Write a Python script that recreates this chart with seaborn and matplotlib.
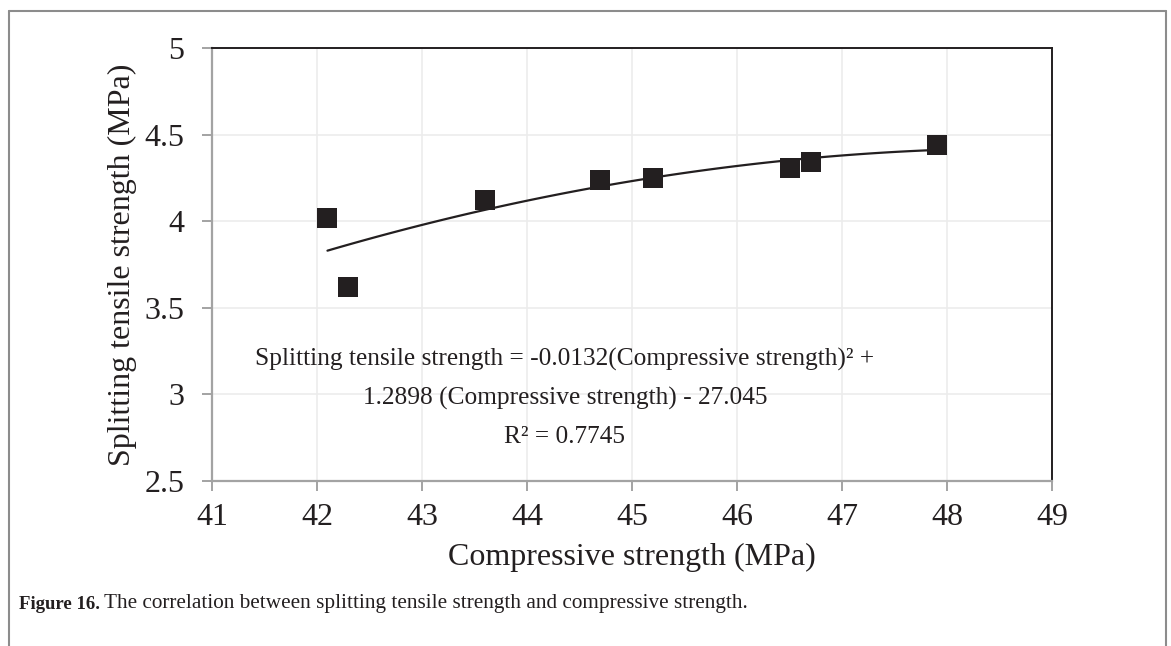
import numpy as np
import pandas as pd
import seaborn as sns
import matplotlib.pyplot as plt
from matplotlib.lines import Line2D

# Measured strengths (MPa)
compressive = [42.1, 42.3, 43.6, 44.7, 45.2, 46.5, 46.7, 47.9]
splitting = [4.02, 3.62, 4.12, 4.24, 4.25, 4.31, 4.34, 4.44]

x_ticks = [41, 42, 43, 44, 45, 46, 47, 48, 49]
y_ticks = [2.5, 3, 3.5, 4, 4.5, 5]
y_tick_labels = ["2.5", "3", "3.5", "4", "4.5", "5"]

equation_lines = [
    "Splitting tensile strength = -0.0132(Compressive strength)\u00b2 +",
    "1.2898 (Compressive strength) - 27.045",
    "R\u00b2 = 0.7745",
]

df = pd.DataFrame({"Compressive strength (MPa)": compressive,
                   "Splitting tensile strength (MPa)": splitting})

sns.set_theme(style="white")
plt.rcParams["font.family"] = ["Liberation Serif", "DejaVu Serif"]

ink = "#231f20"
axis_grey = "#a3a3a3"

fig = plt.figure(figsize=(11.71, 6.46), dpi=100)
ax = fig.add_axes([0.181, 0.2554, 0.8984 - 0.181, 0.9257 - 0.2554])

# second-order trendline over the data range
sns.regplot(data=df, x="Compressive strength (MPa)", y="Splitting tensile strength (MPa)",
            order=2, ci=None, scatter=False, ax=ax,
            line_kws={"color": ink, "linewidth": 1.6})
sns.scatterplot(data=df, x="Compressive strength (MPa)", y="Splitting tensile strength (MPa)",
                marker="s", s=210, color=ink, linewidth=0, ax=ax, zorder=3)

ax.set_xlim(41, 49)
ax.set_ylim(2.5, 5)
ax.set_xticks(x_ticks)
ax.set_xticklabels([str(v) for v in x_ticks])
ax.set_yticks(y_ticks)
ax.set_yticklabels(y_tick_labels)
ax.grid(True, color="#ececec", linewidth=1.2)
ax.set_axisbelow(True)

for side in ("top", "right"):
    ax.spines[side].set_color(ink)
    ax.spines[side].set_linewidth(1.4)
for side in ("left", "bottom"):
    ax.spines[side].set_color(axis_grey)
    ax.spines[side].set_linewidth(1.6)

ax.tick_params(axis="both", which="major", direction="out", length=7, width=1.4,
               color=axis_grey, labelsize=23, labelcolor=ink)
ax.tick_params(axis="x", bottom=True, pad=9)
ax.tick_params(axis="y", left=True, pad=13)

ax.set_xlabel("Compressive strength (MPa)", fontsize=23, color=ink, labelpad=8)
ax.set_ylabel("Splitting tensile strength (MPa)", fontsize=23, color=ink, labelpad=5)

ax.text(44.36, 2.982, "\n".join(equation_lines), ha="center", va="center",
        multialignment="center", fontsize=18.3, color=ink, linespacing=1.92)

# outer frame around figure and caption
frame_kw = dict(color="#8c8c8c", linewidth=1.5, transform=fig.transFigure)
fig.add_artist(Line2D([9 / 1171, 1166 / 1171], [1 - 11 / 646, 1 - 11 / 646], **frame_kw))
fig.add_artist(Line2D([9 / 1171, 9 / 1171], [1 - 11 / 646, -0.01], **frame_kw))
fig.add_artist(Line2D([1166 / 1171, 1166 / 1171], [1 - 11 / 646, -0.01], **frame_kw))

label = fig.text(19 / 1171, 1 - 609 / 646, "Figure 16.", fontsize=13.5, fontweight="bold",
                 color=ink, va="baseline", ha="left")
fig.add_artist(plt.Annotation(
    "The correlation between splitting tensile strength and compressive strength.",
    xy=(1, 0), xycoords=label, xytext=(3, 0), textcoords="offset points",
    va="bottom", ha="left", fontsize=15.3, color=ink, annotation_clip=False))

fig.savefig("out.png", dpi=100)
